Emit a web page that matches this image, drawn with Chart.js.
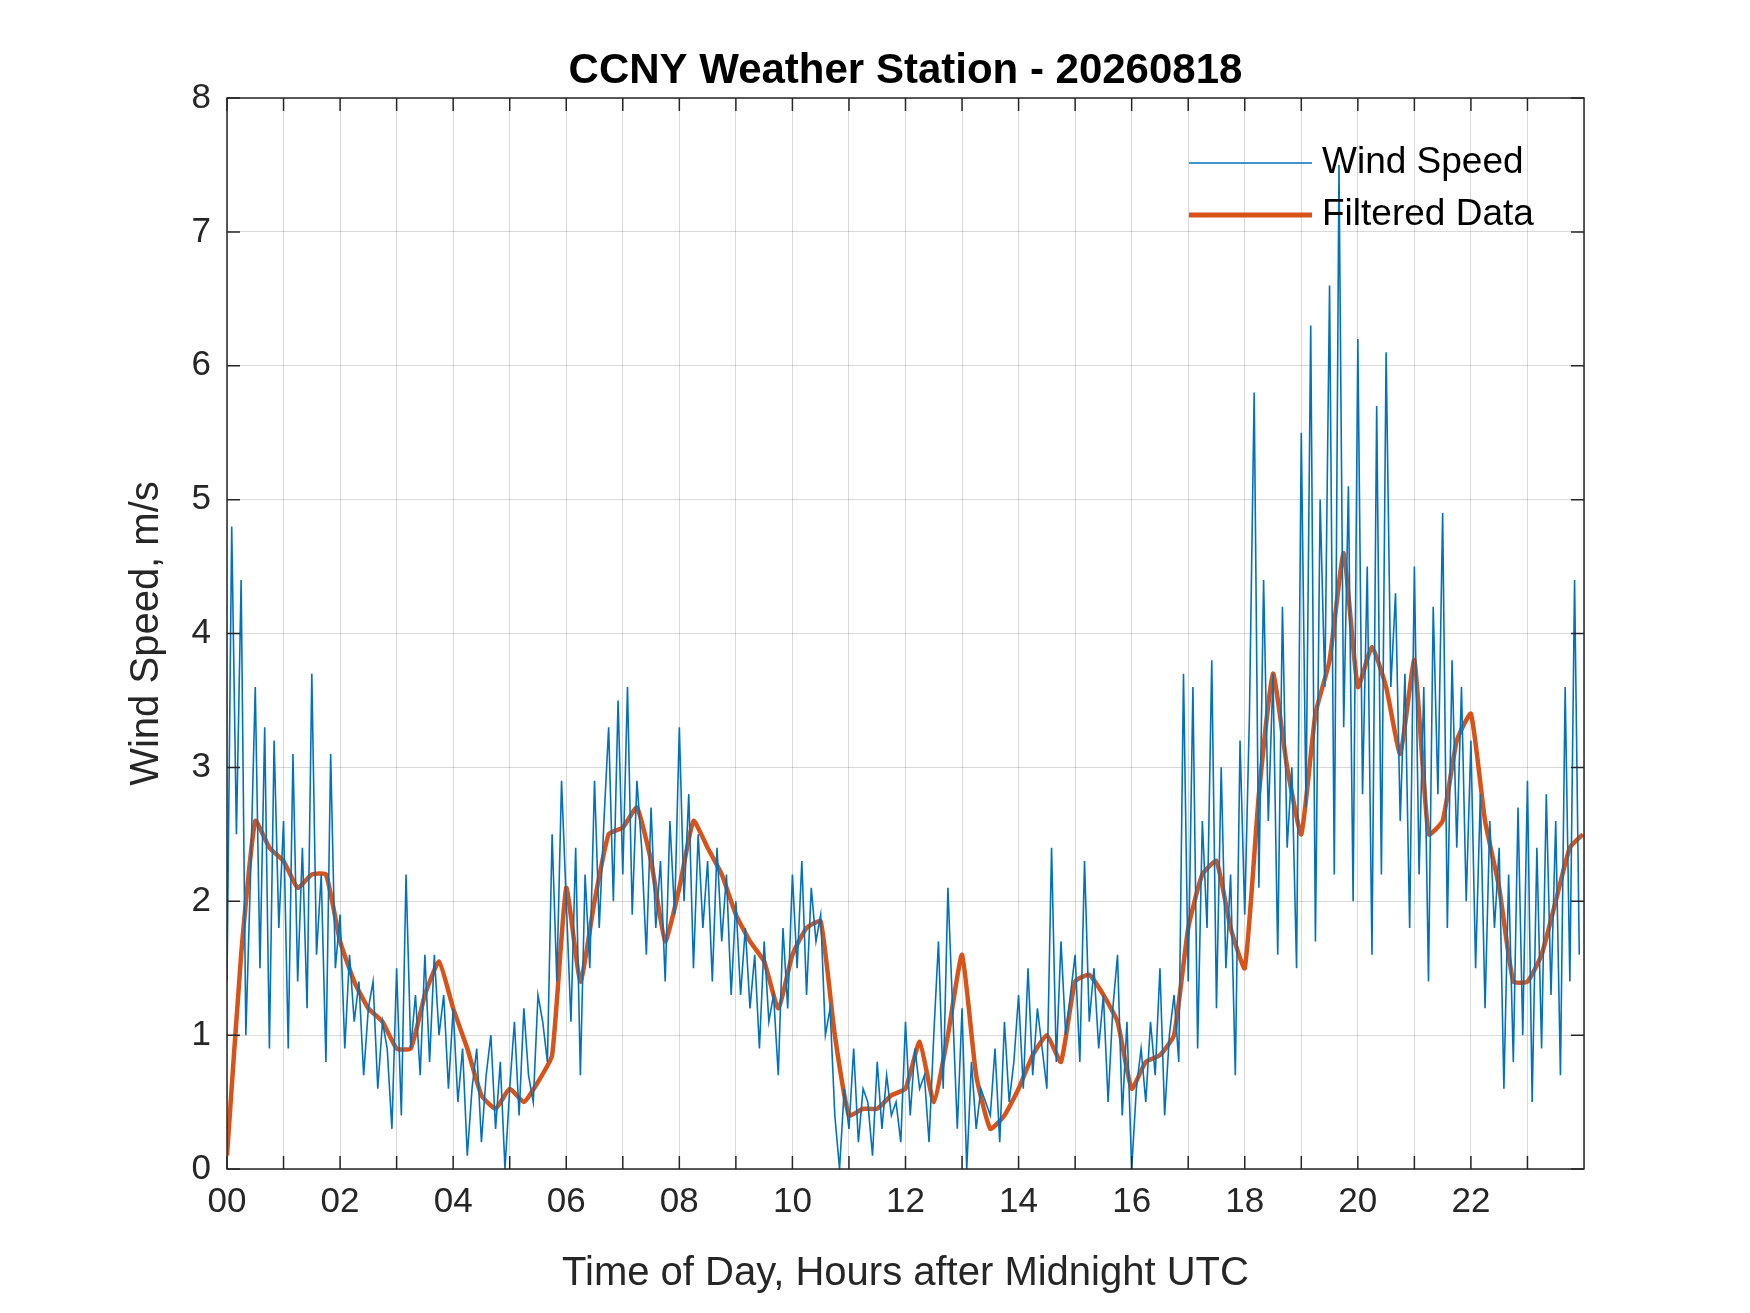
<!DOCTYPE html>
<html>
<head>
<meta charset="utf-8">
<script src="https://cdn.jsdelivr.net/npm/chart.js@4/dist/chart.umd.min.js"></script>
<style>
  html, body { margin: 0; padding: 0; background: #fff; }
  #wrap { width: 1750px; height: 1313px; }
</style>
</head>
<body>
<div id="wrap"><canvas id="chart" width="1750" height="1313"></canvas></div>
<script>
// wind speed, one sample every 5 minutes (12 per hour)
const windStepHours = 5 / 60;
const windSpeed = [
  1.4,4.8,2.5,4.4,1.0,2.2,3.6,1.5,3.3,0.9,3.2,1.8,
  2.6,0.9,3.1,1.4,2.4,1.2,3.7,1.6,2.2,0.8,3.1,1.5,
  1.9,0.9,1.6,1.1,1.4,0.7,1.2,1.4,0.6,1.1,0.9,0.3,
  1.5,0.4,2.2,0.9,1.3,0.7,1.6,0.8,1.6,1.0,1.3,0.6,
  1.2,0.5,0.9,0.1,0.6,0.9,0.2,0.7,1.0,0.3,0.8,0.0,
  0.6,1.1,0.4,1.2,0.7,0.5,1.3,1.1,0.8,2.5,1.4,2.9,
  2.0,1.1,2.4,0.7,2.2,1.5,2.9,1.8,2.6,3.3,2.0,3.5,
  2.2,3.6,1.9,2.9,2.4,1.6,2.7,1.8,2.3,1.4,2.6,1.9,
  3.3,2.0,2.8,1.5,2.5,1.8,2.3,1.4,2.4,1.7,2.2,1.3,
  2.0,1.3,1.8,1.2,1.6,0.9,1.7,1.1,1.3,0.7,1.8,1.2,
  2.2,1.5,2.3,1.3,2.1,1.7,1.9,1.0,1.2,0.4,0.0,0.6,
  0.3,0.9,0.2,0.6,0.5,0.1,0.8,0.3,0.7,0.4,0.5,0.2,
  1.1,0.4,0.9,0.6,0.7,0.2,1.0,1.7,0.6,2.1,1.2,0.3,
  1.2,0.0,0.8,0.3,0.6,0.5,0.4,0.9,0.2,1.1,0.5,0.8,
  1.3,0.6,1.5,0.7,1.2,0.9,0.6,2.4,0.8,1.7,1.0,1.3,
  1.6,0.8,2.3,1.1,1.5,0.9,1.3,0.5,1.2,1.6,0.4,1.1,
  0.0,0.6,0.9,0.5,1.1,0.7,1.5,0.4,1.0,1.3,0.8,3.7,
  1.4,3.6,0.9,2.6,1.8,3.8,1.2,3.0,1.5,2.2,0.7,3.2,
  1.9,3.4,5.8,2.1,4.4,2.6,3.7,1.6,4.2,2.4,3.0,1.5,
  5.5,2.7,6.3,1.7,5.0,3.6,6.6,2.2,7.5,3.3,5.1,2.0,
  6.2,2.8,4.5,1.6,5.7,2.2,6.1,3.6,4.3,2.6,3.7,1.8,
  4.5,2.2,3.6,1.4,4.2,2.8,4.9,1.8,3.8,2.4,3.6,2.0,
  3.2,1.5,2.8,1.2,2.6,1.8,2.4,0.6,2.2,0.8,2.7,1.0,
  2.9,0.5,2.4,0.9,2.8,1.3,2.6,0.7,3.6,1.4,4.4,1.6
];

// filtered data, one sample every 15 minutes
const filteredStepHours = 0.25;
const filtered = [
  0.1,1.6,2.6,2.4, 2.3,2.1,2.2,2.2, 1.7,1.4,1.2,1.1, 0.9,0.9,1.3,1.55,
  1.2,0.9,0.55,0.45, 0.6,0.5,0.65,0.85, 2.1,1.4,2.0,2.5, 2.55,2.7,2.3,1.7,
  2.1,2.6,2.4,2.2, 1.9,1.7,1.55,1.2, 1.6,1.8,1.85,1.0, 0.4,0.45,0.45,0.55,
  0.6,0.95,0.5,1.0, 1.6,0.7,0.3,0.4, 0.6,0.85,1.0,0.8, 1.4,1.45,1.3,1.1,
  0.6,0.8,0.85,1.0, 1.8,2.2,2.3,1.8, 1.5,2.8,3.7,3.0, 2.5,3.4,3.8,4.6,
  3.6,3.9,3.6,3.1, 3.8,2.5,2.6,3.2, 3.4,2.6,2.1,1.4, 1.4,1.6,2.0,2.4, 2.5
];

const seriesNames = ["Wind Speed", "Filtered Data"];
const seriesColors = ["#0072BD", "#D95319"];
const chartTitle = "CCNY Weather Station - 20260818";
const xTitle = "Time of Day, Hours after Midnight UTC";
const yTitle = "Wind Speed, m/s";

const font = "'Liberation Sans', Arial, sans-serif";

const overlay = {
  id: "overlay",
  afterDraw(chart) {
    const { ctx, chartArea: a } = chart;
    ctx.save();
    // box
    ctx.strokeStyle = "#262626";
    ctx.lineWidth = 1.5;
    ctx.strokeRect(a.left, a.top, a.right - a.left, a.bottom - a.top);
    // inward ticks
    const xs = chart.scales.x, ys = chart.scales.y;
    ctx.beginPath();
    for (let h = 0; h < 24; h++) {
      const px = xs.getPixelForValue(h);
      ctx.moveTo(px, a.bottom); ctx.lineTo(px, a.bottom - 13);
      ctx.moveTo(px, a.top); ctx.lineTo(px, a.top + 13);
    }
    for (let v = 0; v <= 8; v++) {
      const py = ys.getPixelForValue(v);
      ctx.moveTo(a.left, py); ctx.lineTo(a.left + 13, py);
      ctx.moveTo(a.right, py); ctx.lineTo(a.right - 13, py);
    }
    ctx.stroke();
    // title
    ctx.fillStyle = "#000";
    ctx.font = "bold 42px " + font;
    ctx.textAlign = "center";
    ctx.textBaseline = "bottom";
    ctx.fillText(chartTitle, (a.left + a.right) / 2, a.top - 6);
    // axis titles
    ctx.fillStyle = "#262626";
    ctx.font = "40px " + font;
    ctx.textBaseline = "middle";
    ctx.fillText(xTitle, (a.left + a.right) / 2, a.bottom + 105);
    ctx.save();
    ctx.translate(a.left - 80, (a.top + a.bottom) / 2);
    ctx.rotate(-Math.PI / 2);
    ctx.fillText(yTitle, 0, 0);
    ctx.restore();
    // legend
    ctx.font = "37px " + font;
    ctx.textAlign = "left";
    ctx.textBaseline = "middle";
    const lx = a.right - 395, ly = [a.top + 65, a.top + 117];
    seriesNames.forEach((name, i) => {
      ctx.strokeStyle = seriesColors[i];
      ctx.lineWidth = i === 0 ? 1.5 : 5;
      ctx.beginPath();
      ctx.moveTo(lx, ly[i]); ctx.lineTo(lx + 123, ly[i]);
      ctx.stroke();
      ctx.fillStyle = "#000";
      ctx.fillText(name, lx + 133, ly[i]);
    });
    ctx.restore();
  }
};

new Chart(document.getElementById("chart"), {
  type: "line",
  data: {
    datasets: [
      {
        label: seriesNames[0],
        data: windSpeed.map((v, i) => ({ x: i * windStepHours, y: v })),
        borderColor: seriesColors[0],
        borderWidth: 1.6,
        pointRadius: 0,
        tension: 0,
      },
      {
        label: seriesNames[1],
        data: filtered.map((v, i) => ({ x: Math.min(i * filteredStepHours, 23.98), y: v })),
        borderColor: seriesColors[1],
        borderWidth: 4.5,
        pointRadius: 0,
        tension: 0.15,
      },
    ],
  },
  options: {
    responsive: false,
    animation: false,
    layout: { padding: { left: 0, right: 166, top: 98, bottom: 0 } },
    plugins: { legend: { display: false }, title: { display: false }, tooltip: { enabled: false } },
    scales: {
      x: {
        type: "linear",
        min: 0,
        max: 24,
        afterFit: (s) => { s.height = 144; },
        grid: { color: "rgba(0,0,0,0.15)", drawTicks: false },
        border: { display: false },
        ticks: {
          stepSize: 1,
          autoSkip: false,
          maxRotation: 0,
          padding: 12,
          color: "#262626",
          font: { family: font, size: 35 },
          callback: (v) => (v % 2 === 0 && v < 24 ? String(v).padStart(2, "0") : ""),
        },
      },
      y: {
        min: 0,
        max: 8,
        afterFit: (s) => { s.width = 227; },
        grid: { color: "rgba(0,0,0,0.15)", drawTicks: false },
        border: { display: false },
        ticks: {
          stepSize: 1,
          padding: 16,
          color: "#262626",
          font: { family: font, size: 35 },
        },
      },
    },
  },
  plugins: [overlay],
});
</script>
</body>
</html>
